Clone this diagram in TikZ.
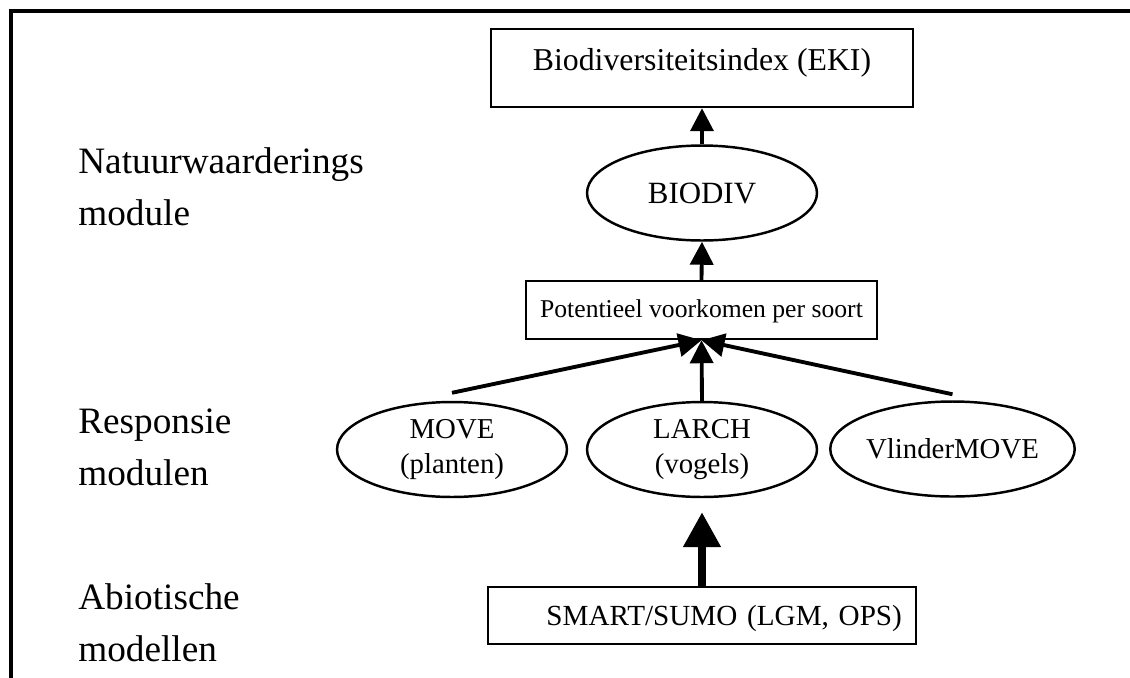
\documentclass[tikz,border=0pt]{standalone}
\usepackage{fontspec}
\setmainfont{Liberation Serif}
\usetikzlibrary{arrows.meta}
\usetikzlibrary{shapes.geometric}

\begin{document}
\begin{tikzpicture}[x=0.02cm, y=-0.02cm,
    box/.style={draw, line width=1.4pt, inner xsep=0pt, inner ysep=0pt},
    oval/.style={draw, ellipse, line width=1.4pt, inner sep=0pt, minimum width=4.6cm, minimum height=1.9cm, align=center, font=\fontsize{16.4}{19.8}\selectfont},
    lab/.style={anchor=west, align=left, inner sep=0pt, font=\fontsize{21.2}{29.5}\selectfont},
    arr/.style={-{Triangle[length=0.46cm, width=0.46cm]}, line width=2.2pt}]
    \useasboundingbox (0,0) rectangle (1130,677);

    % frame
    \draw[line width=2.4pt] (11,700) -- (11,11) -- (1150,11);

    % left column
    \node[lab] (natuur) at (78,187) {Natuurwaarderings\\module};
    \node[lab] (respons) at (78,447) {Responsie\\modulen};
    \node[lab] (abiot) at (78,623) {Abiotische\\modellen};

    % boxes
    \node[box, minimum width=8.44cm, text height=0.82cm, text depth=0.74cm, font=\fontsize{18.1}{21}\selectfont] (eki) at (702,68) {Biodiversiteitsindex (EKI)};
    \node[box, minimum width=7.02cm, text height=0.72cm, text depth=0.44cm, font=\fontsize{14.6}{17}\selectfont] (pot) at (701.5,310) {Potentieel voorkomen per soort};
    \node[box, text width=8cm, inner xsep=0.28cm, align=right, text height=0.76cm, text depth=0.38cm, font=\fontsize{16.6}{19}\selectfont] (smart) at (702,615.5) {SMART/SUMO (LGM, OPS)};

    % ovals
    \node[oval, font=\fontsize{17.6}{20}\selectfont] (biodiv) at (702,193) {BIODIV};
    \node[oval] (move) at (452,449.5) {MOVE\\(planten)};
    \node[oval] (larch) at (702,449.5) {LARCH\\(vogels)};
    \node[oval] (vlinder) at (952.5,449) {VlinderMOVE};

    % arrows
    \draw[arr] (biodiv.north) -- (eki.south);
    \draw[arr] (pot.north) -- (biodiv.south);
    \draw[arr] ([yshift=0.16cm]move.north) -- (pot.south);
    \draw[arr] (larch.north) -- (pot.south);
    \draw[arr] ([yshift=0.12cm]vlinder.north) -- (pot.south);
    \draw[-{Triangle[length=0.7cm, width=0.72cm]}, line width=4.5pt, shorten >=0.28cm] (smart.north) -- (larch.south);
\end{tikzpicture}
\end{document}
